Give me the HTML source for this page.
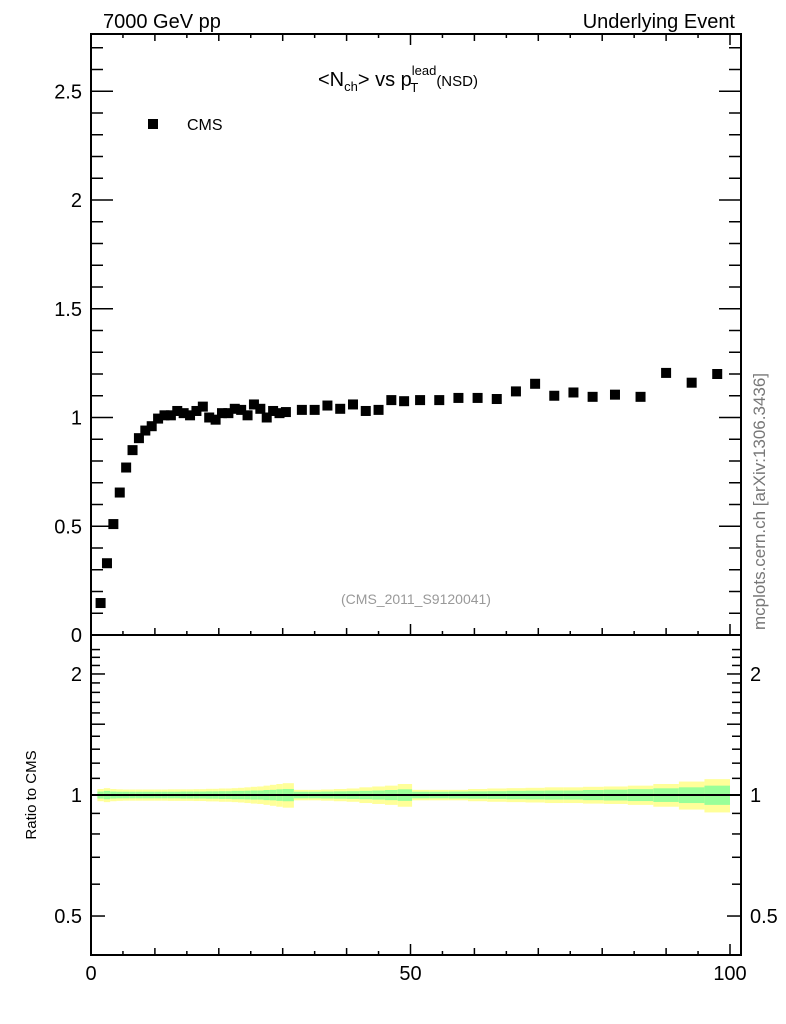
<!DOCTYPE html>
<html><head><meta charset="utf-8"><style>
body{margin:0;background:#fff}
svg{display:block;font-family:"Liberation Sans",sans-serif}
</style></head><body>
<svg id="c" width="786" height="1024" viewBox="0 0 786 1024">
<g id="bands"></g><g id="axes"></g><g id="pts"></g>
<text x="103" y="28" font-size="20">7000 GeV pp</text>
<text x="735" y="28" font-size="20" text-anchor="end">Underlying Event</text>
<text x="318" y="86" font-size="20">&lt;N<tspan font-size="13" dy="5">ch</tspan><tspan dy="-5">&gt; vs p</tspan><tspan font-size="13" dy="-11">lead</tspan><tspan font-size="13" dx="-26" dy="17">T</tspan><tspan font-size="15" dx="18" dy="-6">(NSD)</tspan></text>
<rect x="148" y="119" width="10" height="10" fill="#000"/>
<text x="187" y="130" font-size="16">CMS</text>
<text x="416" y="604" font-size="14" fill="#999" text-anchor="middle">(CMS_2011_S9120041)</text>
<text x="0" y="0" font-size="17" fill="#777" transform="translate(765,630) rotate(-90)">mcplots.cern.ch [arXiv:1306.3436]</text>
<text x="0" y="0" font-size="15" text-anchor="middle" transform="translate(36,795) rotate(-90)">Ratio to CMS</text>
</svg>
<script>
const xVals=[1.5,2.5,3.5,4.5,5.5,6.5,7.5,8.5,9.5,10.5,11.5,12.5,13.5,14.5,15.5,16.5,17.5,18.5,19.5,20.5,21.5,22.5,23.5,24.5,25.5,26.5,27.5,28.5,29.5,30.5,33,35,37,39,41,43,45,47,49,51.5,54.5,57.5,60.5,63.5,66.5,69.5,72.5,75.5,78.5,82,86,90,94,98];
const yVals=[0.147,0.33,0.51,0.655,0.77,0.85,0.905,0.94,0.96,0.995,1.01,1.01,1.03,1.02,1.01,1.03,1.05,1.0,0.99,1.02,1.02,1.04,1.035,1.01,1.06,1.04,1.0,1.03,1.02,1.025,1.035,1.035,1.055,1.04,1.06,1.03,1.035,1.08,1.075,1.08,1.08,1.09,1.09,1.085,1.12,1.155,1.10,1.115,1.095,1.105,1.095,1.205,1.16,1.2];
const errTot=[0.035,0.04,0.035,0.033,0.032,0.032,0.032,0.032,0.032,0.032,0.032,0.033,0.033,0.033,0.033,0.034,0.034,0.036,0.036,0.038,0.038,0.04,0.042,0.045,0.048,0.05,0.055,0.06,0.065,0.07,0.03,0.03,0.032,0.035,0.038,0.045,0.05,0.055,0.065,0.03,0.03,0.03,0.035,0.038,0.04,0.042,0.045,0.045,0.048,0.05,0.055,0.065,0.08,0.095];
const errStat=[0.02,0.024,0.02,0.019,0.019,0.019,0.019,0.019,0.019,0.019,0.019,0.019,0.019,0.02,0.02,0.02,0.02,0.021,0.021,0.022,0.022,0.024,0.024,0.025,0.026,0.026,0.029,0.03,0.033,0.035,0.019,0.019,0.02,0.021,0.022,0.024,0.026,0.029,0.033,0.019,0.019,0.02,0.021,0.022,0.024,0.025,0.026,0.026,0.029,0.031,0.034,0.039,0.045,0.055];
const xTicks=[0,50,100];
const yTicks=[0.5,1,1.5,2,2.5];
const rTicks=[0.5,1,2];
const NS='http://www.w3.org/2000/svg';
const L=91,R=741,T=34,MB=635,RB=955;
const sx=v=>L+v*6.39;
const sy=v=>MB-v*217.5;
const sr=v=>795-Math.log(v)*174.6;
function mk(p,t,a){const e=document.createElementNS(NS,t);for(const k in a)e.setAttribute(k,a[k]);document.getElementById(p).appendChild(e);return e;}
for(let i=0;i<xVals.length;i++){
 const lo=i==0?1:(xVals[i-1]+xVals[i])/2, hi=i==xVals.length-1?100:(xVals[i]+xVals[i+1])/2;
 const y=mk('bands','rect',{x:sx(lo),y:sr(1+errTot[i]),width:sx(hi)-sx(lo),height:sr(1-errTot[i])-sr(1+errTot[i]),fill:'#ffff99'});
 
 
 const g=mk('bands','rect',{x:sx(lo),y:sr(1+errStat[i]),width:sx(hi)-sx(lo),height:sr(1-errStat[i])-sr(1+errStat[i]),fill:'#99ff99'});
 
 
}
const ref=mk('bands','line',{x1:L,x2:R,y1:sr(1),y2:sr(1),stroke:'#000','stroke-width':2});


const f1=mk('axes','rect',{x:L,y:T,width:R-L,height:MB-T,fill:'none',stroke:'#000','stroke-width':2});


const f2=mk('axes','rect',{x:L,y:MB,width:R-L,height:RB-MB,fill:'none',stroke:'#000','stroke-width':2});


function tk(x1,y1,x2,y2){const t=mk('axes','line',{x1,y1,x2,y2,stroke:'#000','stroke-width':1.5});}
for(let v=0;v<=100;v+=5){const len=v%50==0?11:(v%10==0?7:4);
 for(const [b,d] of [[RB,-1],[MB,-1],[T,1]]) tk(sx(v),b,sx(v),b+d*len);}
for(const v of xTicks){const t=mk('axes','text',{x:sx(v),y:980,'font-size':20,'text-anchor':'middle'});t.textContent=v;
 }
for(let i=1;i<=27;i++){const v=i*0.1;const len=i%5==0?22:12;tk(L,sy(v),L+len,sy(v));tk(R,sy(v),R-len,sy(v));}
for(const v of yTicks){const t=mk('axes','text',{x:82,y:sy(v)+7,'font-size':20,'text-anchor':'end'});t.textContent=v;
 }
const z=mk('axes','text',{x:82,y:642,'font-size':20,'text-anchor':'end'});z.textContent='0';

for(let i=5;i<=23;i++){const v=i/10;const len=i%5==0?14:9;tk(L,sr(v),L+len,sr(v));tk(R,sr(v),R-len,sr(v));}
for(const v of rTicks){for(const [x,a] of [[82,'end'],[750,'start']]){const t=mk('axes','text',{x,y:sr(v)+7,'font-size':20,'text-anchor':a});t.textContent=v;
 }}
for(let i=0;i<xVals.length;i++){
 const p=mk('pts','rect',{x:sx(xVals[i])-5,y:sy(yVals[i])-5,width:10,height:10,fill:'#000'});
 
 
}
</script>
</body></html>
